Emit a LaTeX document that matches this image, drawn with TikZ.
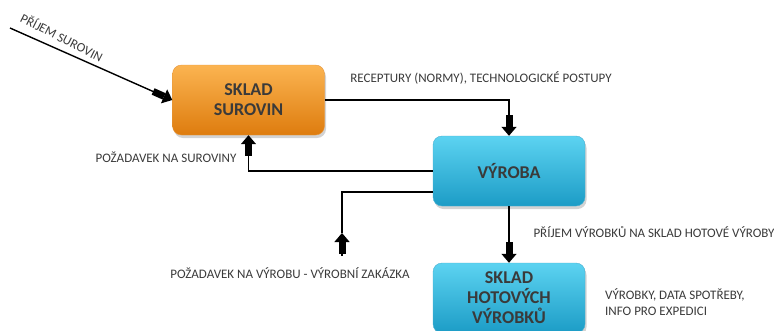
\documentclass[tikz,border=0pt]{standalone}
\usepackage{fontspec}
\setmainfont{Carlito}
\usetikzlibrary{arrows.meta,shadows,calc}
\definecolor{txt}{HTML}{3A3A3A}
\definecolor{orTop}{HTML}{FBB451}
\definecolor{orMid}{HTML}{F39A2C}
\definecolor{orBot}{HTML}{DE7C0E}
\definecolor{blTop}{HTML}{5CD3F1}
\definecolor{blMid}{HTML}{38BEE2}
\definecolor{blBot}{HTML}{1C9CC6}
\begin{document}
\begin{tikzpicture}[x=1pt,y=-1pt,
  box/.style={rounded corners=9pt, minimum width=152pt, minimum height=70pt,
    align=center, inner sep=0pt, text=txt,
    font=\fontsize{18}{20}\selectfont\bfseries,
    drop shadow={shadow xshift=1.5pt,shadow yshift=-3pt,opacity=0.35}},
  orbox/.style={box, top color=orTop, middle color=orMid, bottom color=orBot, draw=orBot!80!white, line width=0.4pt},
  blbox/.style={box, top color=blTop, middle color=blMid, bottom color=blBot, draw=blBot!80!white, line width=0.4pt},
  lbl/.style={font=\fontsize{13}{16}\selectfont, text=txt, inner sep=0pt},
  flow/.style={line width=1.4pt, draw=black},
  blk/.style={flow, -{Rectangle[length=12pt,width=7pt]Triangle[length=9pt,width=15pt]}},
]
\useasboundingbox (0,0) rectangle (774,330);
\clip (0,0) rectangle (774,330);

% boxes
\node[orbox] (sur) at (248.5,100) {SKLAD\\SUROVIN};
\node[blbox] (vyr) at (509,171) {VÝROBA};
\node[blbox] (hot) at (509,298) {SKLAD\\HOTOVÝCH\\VÝROBKŮ};

% coordinates for free ends
\coordinate (src) at (10,28);
\coordinate (req) at (342,233);
\coordinate (reqb) at (342,256);

% connectors
\draw[blk] (src) -- (sur.west);
\draw[blk] (sur.east) -| (vyr.north);
\draw[blk] (vyr.west) -| (sur.south);
\draw[flow] ([yshift=-21pt]vyr.west) -| (req);
\draw[blk] (reqb) -- (req);
\draw[blk] (vyr.south) -- (hot.north);

% labels
\node[lbl, rotate=-27] (l1) at (62,37) {PŘÍJEM SUROVIN};
\node[lbl] (l2) at (481,78) {RECEPTURY (NORMY), TECHNOLOGICKÉ POSTUPY};
\node[lbl] (l3) at (166,157) {POŽADAVEK NA SUROVINY};
\node[lbl] (l4) at (654,232) {PŘÍJEM VÝROBKŮ NA SKLAD HOTOVÉ VÝROBY};
\node[lbl] (l5) at (290,273) {POŽADAVEK NA VÝROBU - VÝROBNÍ ZAKÁZKA};
\node[lbl, anchor=west, align=left] (l6) at (605,302) {VÝROBKY, DATA SPOTŘEBY,\\INFO PRO EXPEDICI};
\end{tikzpicture}
\end{document}
